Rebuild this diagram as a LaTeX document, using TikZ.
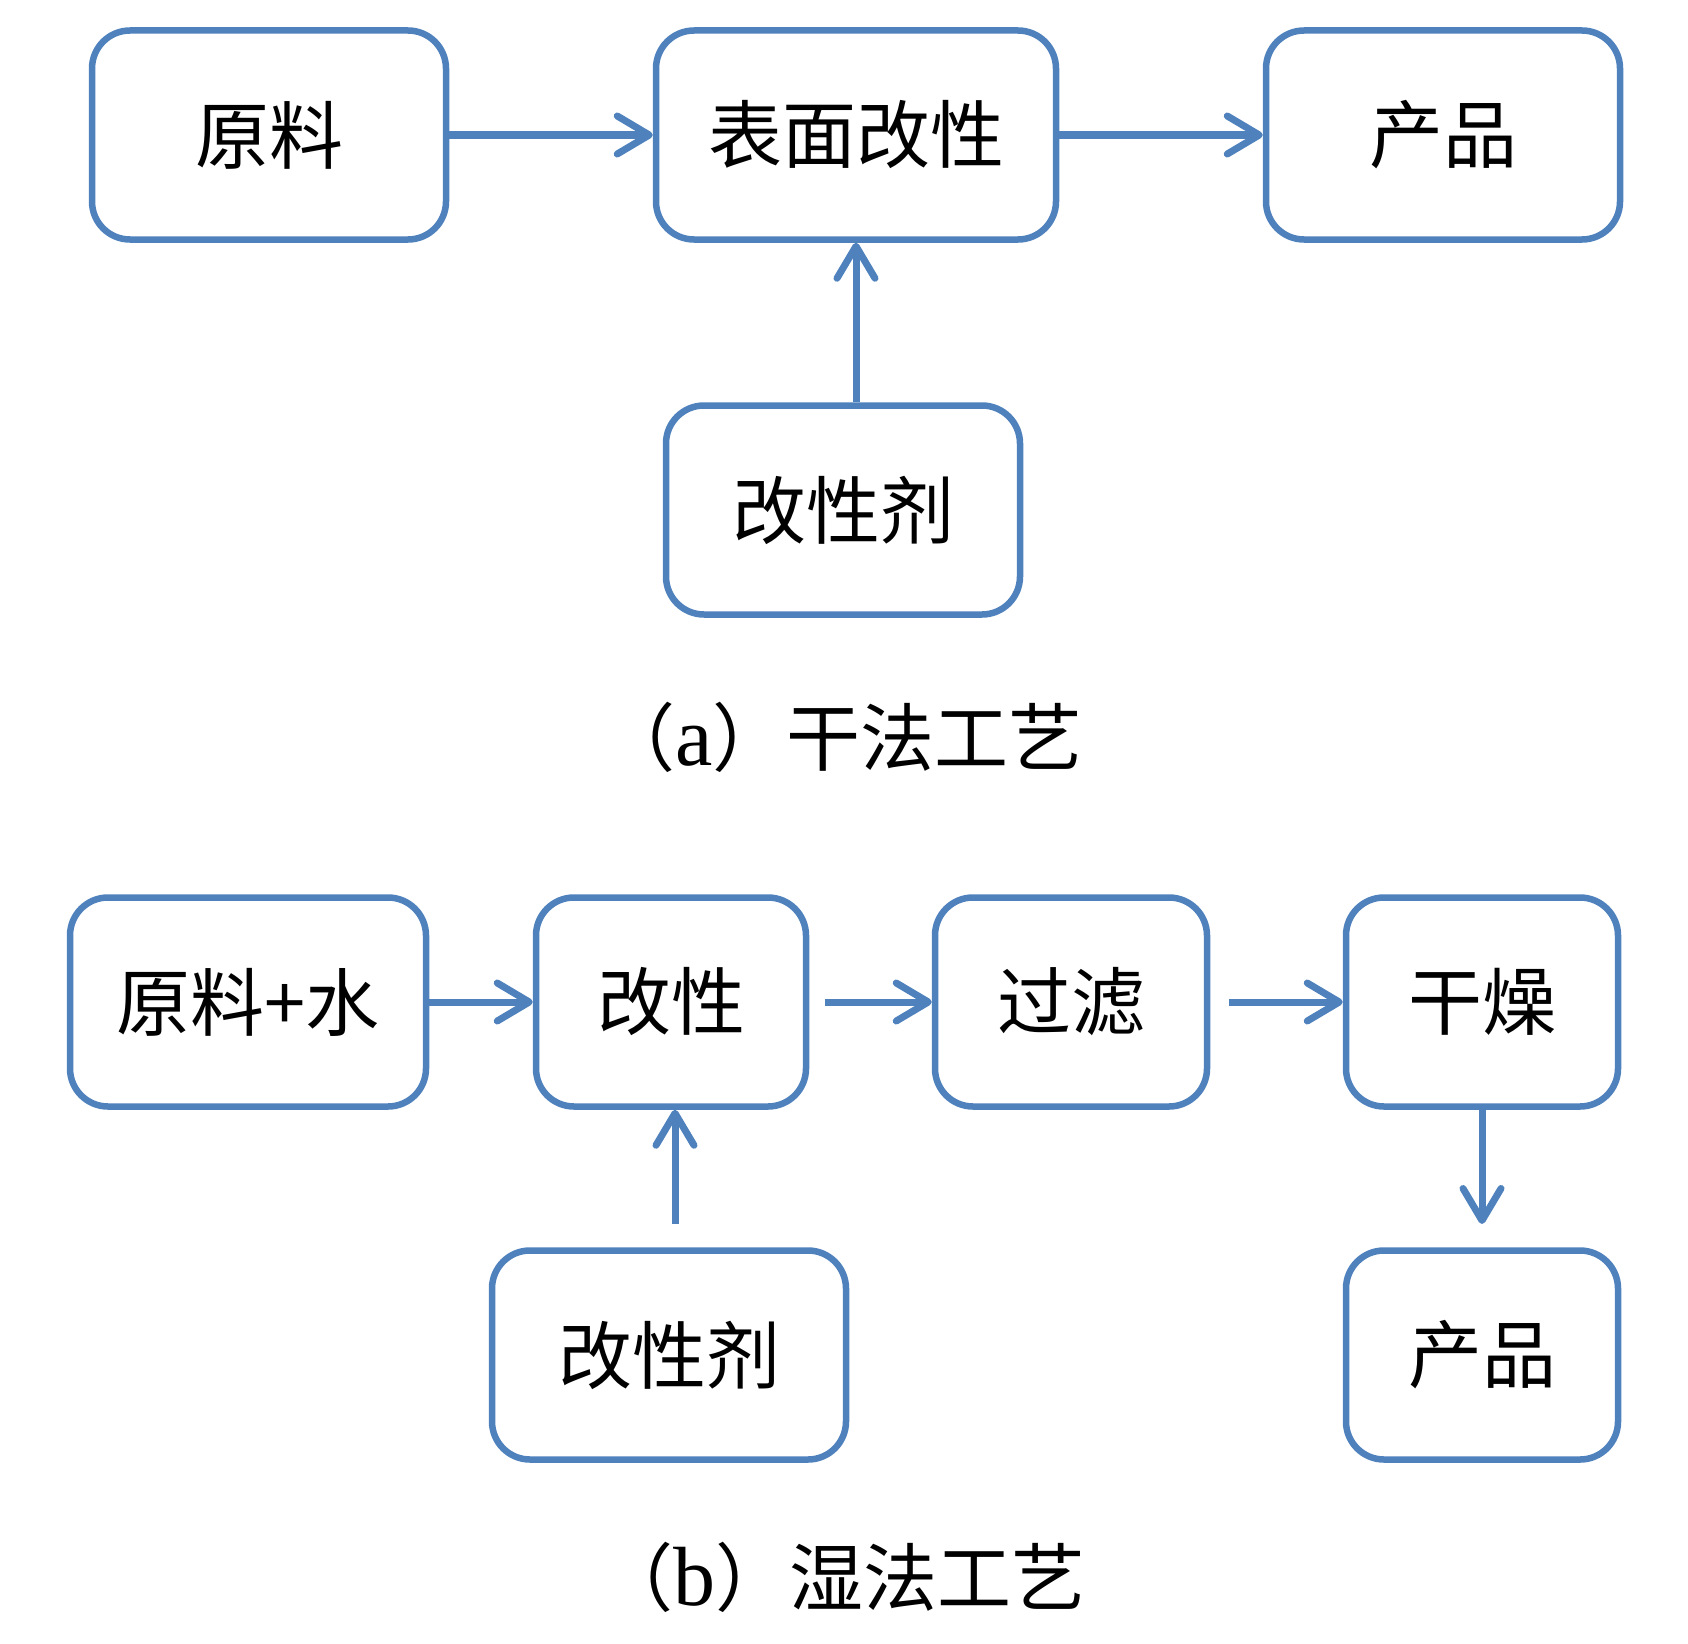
\documentclass[tikz,border=0pt]{standalone}
\usepackage{fontspec}
\setmainfont{Liberation Serif}
\newfontfamily\cjk{Noto Sans CJK SC}
\usetikzlibrary{arrows.meta}
\definecolor{boxblue}{HTML}{4F81BD}
\tikzset{
  procbox/.style={draw=boxblue, line width=6.5pt, rounded corners=38pt, fill=white,
    inner sep=0pt, font=\cjk\fontsize{74}{80}\selectfont, text=black},
  flow/.style={draw=boxblue, line width=7pt,
    -{Straight Barb[length=32pt,width=38pt,round]}},
  caption/.style={font=\cjk\fontsize{74}{80}\selectfont, text=black, inner sep=0pt}
}
\begin{document}
\begin{tikzpicture}[x=1pt,y=-1pt]
\useasboundingbox (0,0) rectangle (1688,1643);
% (a) dry process
\node[procbox, minimum width=354pt, minimum height=209pt] (a1) at (269,135) {原料};
\node[procbox, minimum width=400pt, minimum height=209pt] (a2) at (856,135) {表面改性};
\node[procbox, minimum width=354pt, minimum height=209pt] (a3) at (1443,135) {产品};
\node[procbox, minimum width=354pt, minimum height=209pt] (a4) at (843,510) {改性剂};
\draw[flow] (a1.east) -- (a2.west);
\draw[flow] (a2.east) -- (a3.west);
\draw[flow] (a4.north -| a2.south) -- (a2.south);
\node[caption] (capa) at (842,737) {（{\rmfamily\fontsize{84}{90}\selectfont a}）干法工艺};
% (b) wet process
\node[procbox, minimum width=356pt, minimum height=209pt] (b1) at (248,1002) {原料+水};
\node[procbox, minimum width=270pt, minimum height=209pt] (b2) at (671,1002) {改性};
\node[procbox, minimum width=272pt, minimum height=209pt] (b3) at (1071,1002) {过滤};
\node[procbox, minimum width=272pt, minimum height=209pt] (b4) at (1482,1002) {干燥};
\node[procbox, minimum width=354pt, minimum height=209pt] (b5) at (669,1355) {改性剂};
\node[procbox, minimum width=272pt, minimum height=209pt] (b6) at (1482,1355) {产品};
\coordinate (s2) at (825,1002);
\coordinate (s3) at (1229,1002);
\coordinate (s4) at (675,1224);
\coordinate (e6) at (1482,1224);
\draw[flow] (b1.east) -- (b2.west);
\draw[flow] (s2) -- (b3.west);
\draw[flow] (s3) -- (b4.west);
\draw[flow] (s4) -- (s4 |- b2.south);
\draw[flow] (b4.south) -- (e6);
\node[caption] (capb) at (842,1577) {（{\rmfamily\fontsize{84}{90}\selectfont b}）湿法工艺};
\end{tikzpicture}
\end{document}
